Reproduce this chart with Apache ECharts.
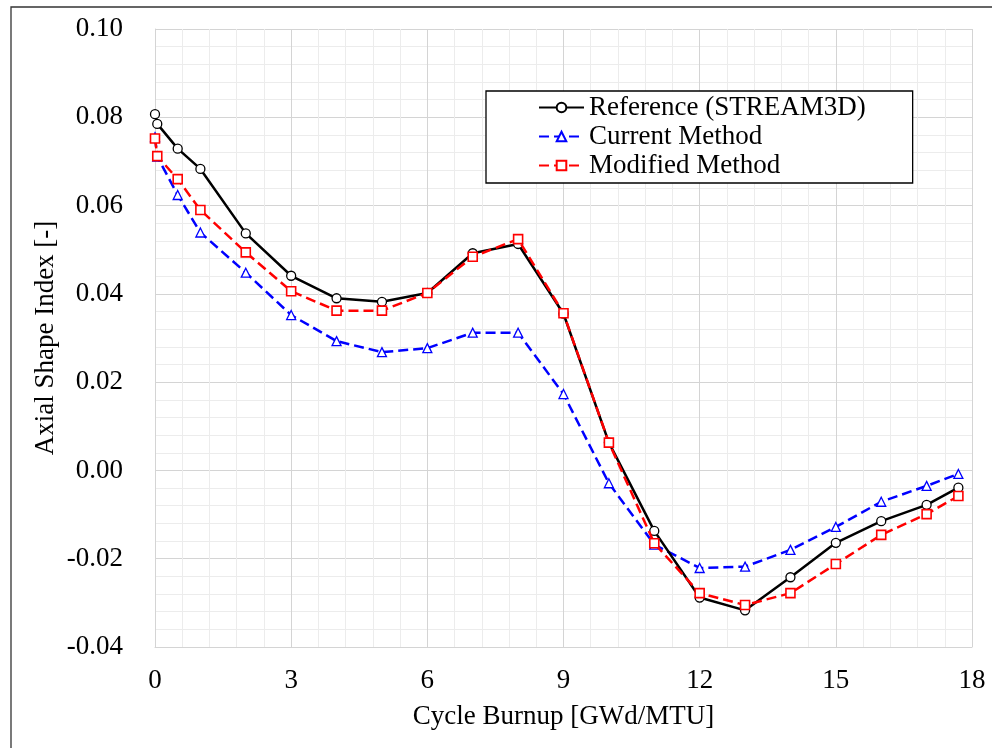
<!DOCTYPE html>
<html>
<head>
<meta charset="utf-8">
<title>Axial Shape Index vs Cycle Burnup</title>
<script src="https://cdn.jsdelivr.net/npm/echarts@6/dist/echarts.min.js"></script>
<style>
  html, body { margin: 0; padding: 0; background: #ffffff; }
  #chart { width: 992px; height: 748px; }
</style>
</head>
<body>
<div id="chart"></div>
<script>
// Cycle burnup points [GWd/MTU]
const burnup = [0, 0.05, 0.5, 1, 2, 3, 4, 5, 6, 7, 8, 9, 10, 11, 12, 13, 14, 15, 16, 17, 17.7];

// Axial shape index for each calculation
const referenceASI = [0.0807, 0.0785, 0.0729, 0.0683, 0.0537, 0.0441, 0.0390, 0.0382, 0.0402, 0.0492, 0.0513,
                      0.0355, 0.0063, -0.0137, -0.0288, -0.0317, -0.0242, -0.0164, -0.0115, -0.0078, -0.0039];
const currentASI = [0.0755, 0.0711, 0.0624, 0.0539, 0.0448, 0.0352, 0.0293, 0.0268, 0.0277, 0.0312, 0.0312,
                    0.0173, -0.0029, -0.0168, -0.0221, -0.0218, -0.0180, -0.0128, -0.0071, -0.0035, -0.0008];
const modifiedASI = [0.0752, 0.0712, 0.0660, 0.0590, 0.0494, 0.0406, 0.0362, 0.0362, 0.0402, 0.0484, 0.0524,
                     0.0356, 0.0063, -0.0165, -0.0278, -0.0305, -0.0278, -0.0212, -0.0146, -0.0099, -0.0058];

const seriesNames = ['Reference (STREAM3D)', 'Current Method', 'Modified Method'];
const axisNames = { x: 'Cycle Burnup [GWd/MTU]', y: 'Axial Shape Index [-]' };

const pairs = ys => burnup.map((x, i) => [x, ys[i]]);

const FONT = 'Liberation Serif, Times New Roman, serif';
const MAJOR = '#d4d4d4';
const MINOR = '#ececec';

const chart = echarts.init(document.getElementById('chart'), null, { renderer: 'canvas' });

chart.setOption({
  backgroundColor: '#ffffff',
  animation: false,
  textStyle: { fontFamily: FONT, color: '#000' },
  grid: { left: 155, right: 20, top: 29, bottom: 101, containLabel: false },
  legend: {
    orient: 'vertical',
    left: 486,
    top: 91,
    backgroundColor: '#ffffff',
    borderColor: '#000',
    borderWidth: 1.3,
    borderRadius: 0,
    padding: [2, 47, 3, 52],
    itemWidth: 45,
    itemHeight: 12,
    itemGap: 0,
    textStyle: { fontFamily: FONT, fontSize: 27, color: '#000', lineHeight: 29 },
    data: seriesNames
  },
  xAxis: {
    type: 'value',
    min: 0, max: 18, interval: 3,
    name: axisNames.x,
    nameLocation: 'middle',
    nameGap: 56,
    nameMoveOverlap: false,
    nameTextStyle: { fontFamily: FONT, fontSize: 27, color: '#000' },
    axisLine: { show: true, onZero: false, lineStyle: { color: MAJOR, width: 1 } },
    axisTick: { show: false },
    axisLabel: { fontFamily: FONT, fontSize: 27, color: '#000', margin: 20 },
    splitLine: { show: true, lineStyle: { color: MAJOR, width: 1 } },
    minorTick: { show: false, splitNumber: 5 },
    minorSplitLine: { show: true, lineStyle: { color: MINOR, width: 1 } }
  },
  yAxis: {
    type: 'value',
    min: -0.04, max: 0.10, interval: 0.02,
    name: axisNames.y,
    nameLocation: 'middle',
    nameGap: 96,
    nameMoveOverlap: false,
    nameTextStyle: { fontFamily: FONT, fontSize: 27, color: '#000' },
    axisLine: { show: true, lineStyle: { color: MAJOR, width: 1 } },
    axisTick: { show: false },
    axisLabel: {
      fontFamily: FONT, fontSize: 27, color: '#000', margin: 32,
      formatter: v => v.toFixed(2)
    },
    splitLine: { show: true, lineStyle: { color: MAJOR, width: 1 } },
    minorTick: { show: false, splitNumber: 5 },
    minorSplitLine: { show: true, lineStyle: { color: MINOR, width: 1 } }
  },
  series: [
    {
      name: seriesNames[0],
      type: 'line',
      data: pairs(referenceASI),
      z: 3,
      symbol: 'circle',
      symbolSize: 9,
      color: '#000000',
      lineStyle: { color: '#000000', width: 2.5, type: 'solid' },
      itemStyle: { color: '#ffffff', borderColor: '#000000', borderWidth: 1.3 }
    },
    {
      name: seriesNames[1],
      type: 'line',
      data: pairs(currentASI),
      z: 2,
      symbol: 'triangle',
      symbolSize: 9,
      color: '#0000ff',
      lineStyle: { color: '#0000ff', width: 2.5, type: [10, 5] },
      itemStyle: { color: '#ffffff', borderColor: '#0000ff', borderWidth: 1.3 }
    },
    {
      name: seriesNames[2],
      type: 'line',
      data: pairs(modifiedASI),
      z: 4,
      symbol: 'rect',
      symbolSize: 9,
      color: '#ff0000',
      lineStyle: { color: '#ff0000', width: 2.5, type: [10, 5] },
      itemStyle: { color: '#ffffff', borderColor: '#ff0000', borderWidth: 1.6 }
    }
  ],
  graphic: [
    {
      type: 'polyline',
      silent: true,
      shape: { points: [[11, 748], [11, 7], [992, 7]] },
      style: { stroke: '#333333', lineWidth: 1.3, fill: null }
    }
  ]
});
</script>
</body>
</html>
